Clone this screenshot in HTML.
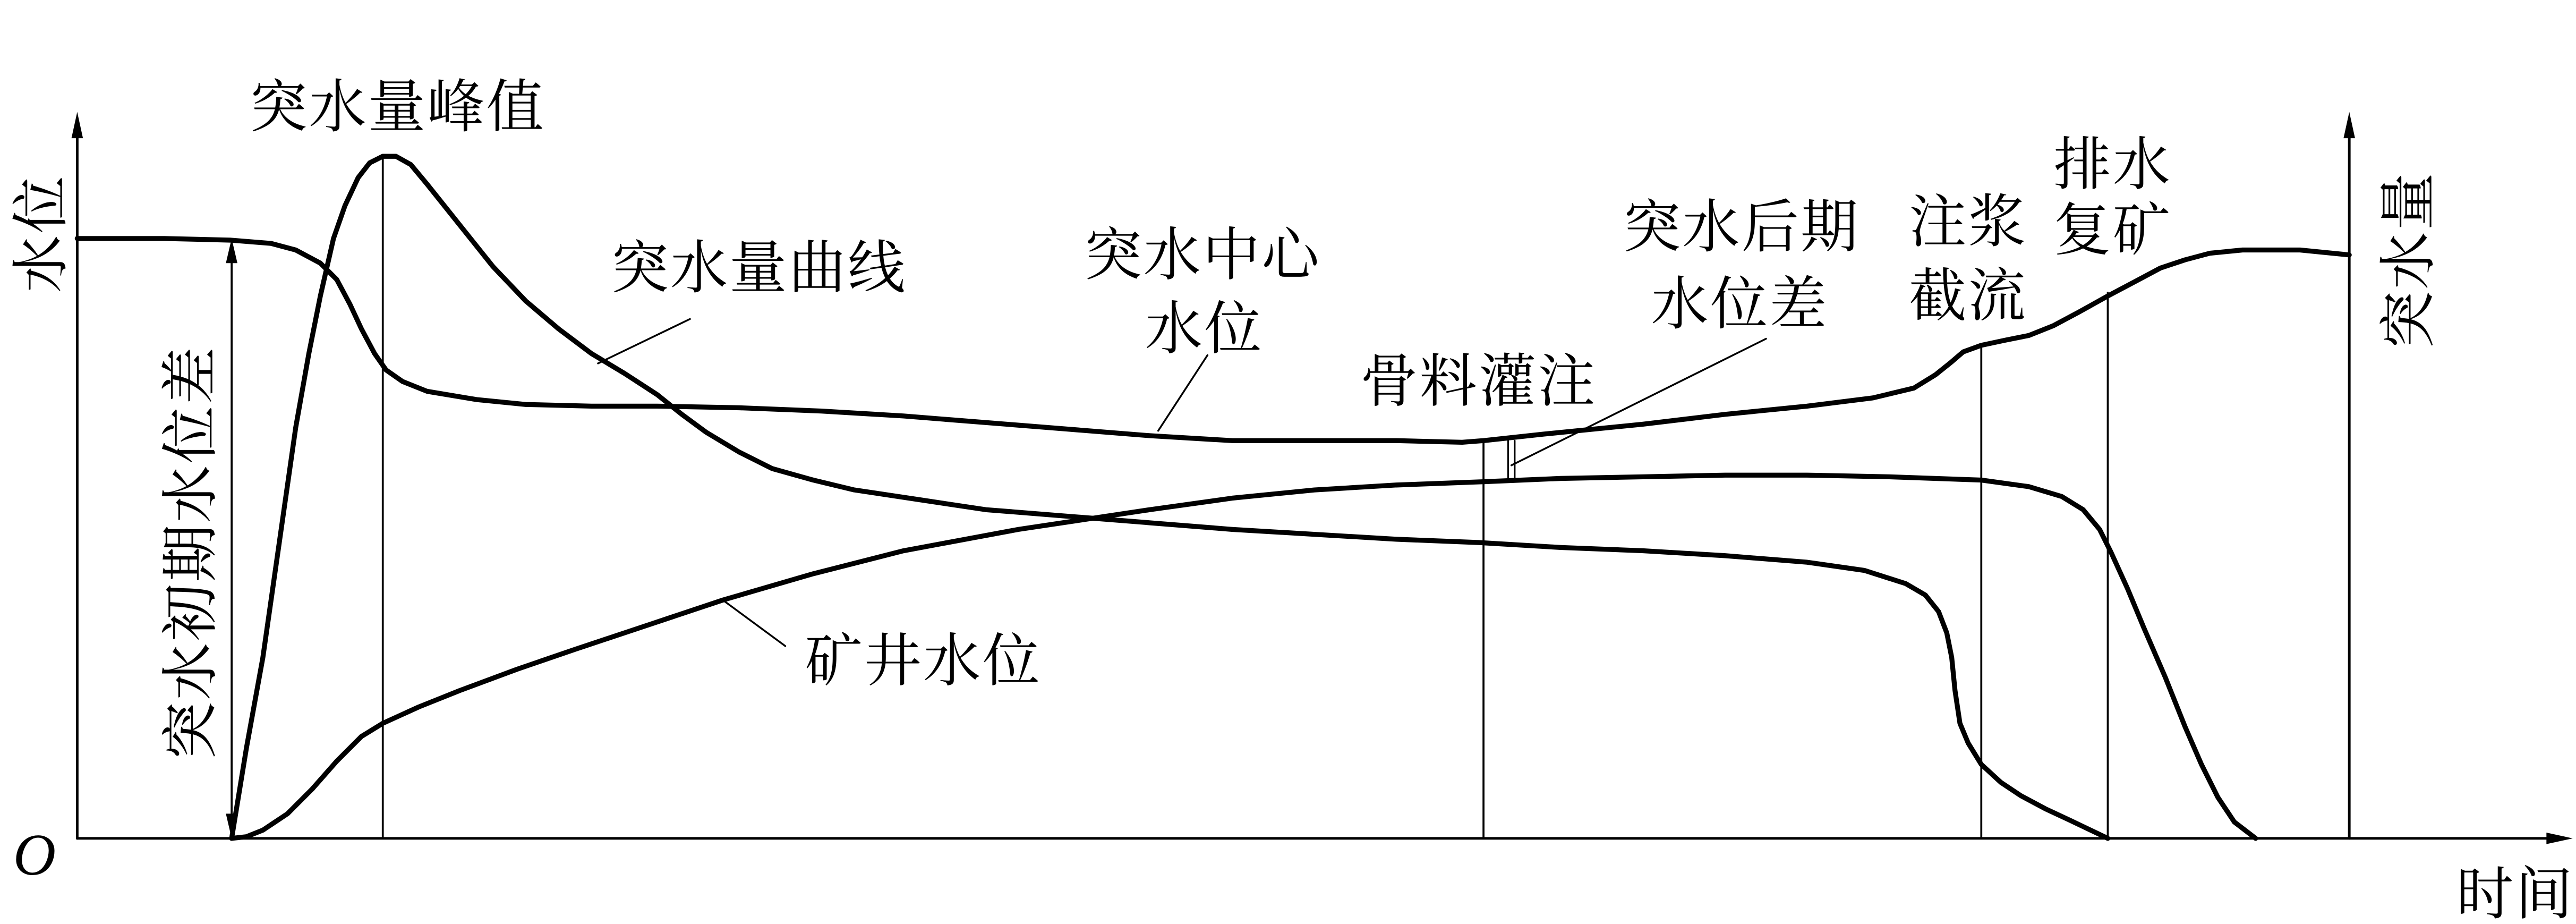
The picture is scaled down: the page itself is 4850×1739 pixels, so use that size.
<!DOCTYPE html>
<html><head><meta charset="utf-8"><style>
html,body{margin:0;padding:0;background:#fff;}
svg{display:block;}
text{font-family:"Liberation Serif","Noto Serif CJK SC",serif;fill:#000;}
</style></head><body>
<svg width="4850" height="1739" viewBox="0 0 1568 562" xmlns="http://www.w3.org/2000/svg">
<g stroke="#000" fill="none" stroke-linejoin="round" stroke-linecap="round">
<line x1="47" y1="510" x2="1555" y2="510" stroke-width="1.6"/>
<line x1="47" y1="510" x2="47" y2="80" stroke-width="1.6"/>
<line x1="1430" y1="510" x2="1430" y2="80" stroke-width="1.6"/>
<line x1="233" y1="95" x2="233" y2="510" stroke-width="1.2"/>
<line x1="903" y1="268" x2="903" y2="510" stroke-width="1.2"/>
<line x1="1206" y1="210" x2="1206" y2="510" stroke-width="1.2"/>
<line x1="1283" y1="178" x2="1283" y2="510" stroke-width="1.2"/>
<line x1="141" y1="155" x2="141" y2="500" stroke-width="1.2"/>
<line x1="918" y1="268" x2="918" y2="293" stroke-width="1"/>
<line x1="922" y1="268" x2="922" y2="293" stroke-width="1"/>
<line x1="364" y1="221" x2="420" y2="194" stroke-width="1.1"/>
<line x1="705" y1="262" x2="735" y2="216" stroke-width="1.1"/>
<line x1="920" y1="283" x2="1075" y2="206" stroke-width="1.1"/>
<line x1="440" y1="365" x2="478" y2="393" stroke-width="1.1"/>
<polyline stroke-width="3" points="47,145 100,145 140,146 165,148 180,152 195,160 205,170 213,185 220,200 228,215 235,225 245,232 260,238 290,243 320,246 360,247 400,247 450,248 500,250 550,253 600,257 650,261 700,265 750,268 800,268 850,268 890,269 903,268 940,264 1000,258 1050,252 1100,247 1140,242 1165,236 1178,228 1188,220 1195,214 1206,210 1220,207 1235,204 1250,198 1265,190 1283,180 1300,171 1315,163 1330,158 1345,154 1365,152 1400,152 1430,155"/>
<polyline stroke-width="3" points="141,510 150,455 160,400 170,330 180,260 188,215 195,180 203,145 210,125 218,108 225,99 233,95 241,95 250,100 260,112 280,137 300,162 320,183 340,200 360,215 380,227 400,240 415,252 430,263 450,275 470,285 495,292 520,298 560,304 600,310 650,314 700,318 750,322 800,325 850,328 900,330 950,333 1000,335 1050,338 1100,342 1135,347 1160,355 1172,362 1180,372 1185,385 1188,400 1190,420 1193,440 1198,452 1206,465 1218,476 1230,484 1245,492 1260,499 1283,510"/>
<polyline stroke-width="3" points="141,510 150,509 160,505 175,495 190,480 205,463 220,448 233,440 255,430 280,420 315,407 350,395 395,380 440,365 495,349 550,335 620,322 700,310 750,303 800,298 850,295 903,293 950,291 1000,290 1050,289 1100,289 1150,290 1206,292 1235,296 1255,302 1268,310 1278,322 1285,336 1295,358 1305,382 1318,412 1330,442 1340,465 1350,485 1360,500 1373,510"/>
</g>
<g fill="#000">
<polygon points="47,68 43.5,84 50.5,84"/>
<polygon points="1430,68 1426.5,84 1433.5,84"/>
<polygon points="1566,510 1550,506.5 1550,513.5"/>
<polygon points="141,145 137.5,160 144.5,160"/>
<polygon points="141,510 137.5,495 144.5,495"/>
</g>
<g font-size="35" letter-spacing="1">
<text x="152" y="77">突水量峰值</text>
<text x="372" y="175">突水量曲线</text>
<text x="660" y="167">突水中心</text>
<text x="697" y="212">水位</text>
<text x="828" y="244">骨料灌注</text>
<text x="988" y="150">突水后期</text>
<text x="1005" y="197">水位差</text>
<text x="1162" y="147">注浆</text>
<text x="1162" y="192">截流</text>
<text x="1250" y="112">排水</text>
<text x="1250" y="152">复矿</text>
<text x="490" y="414">矿井水位</text>
<text x="1495" y="556">时间</text>
<text x="8" y="532" font-style="italic" font-size="36">O</text>
<text transform="translate(37,178) rotate(-90)">水位</text>
<text transform="translate(128,462) rotate(-90)">突水初期水位差</text>
<text transform="translate(1478,212) rotate(-90)">突水量</text>
</g>
</svg>
</body></html>
